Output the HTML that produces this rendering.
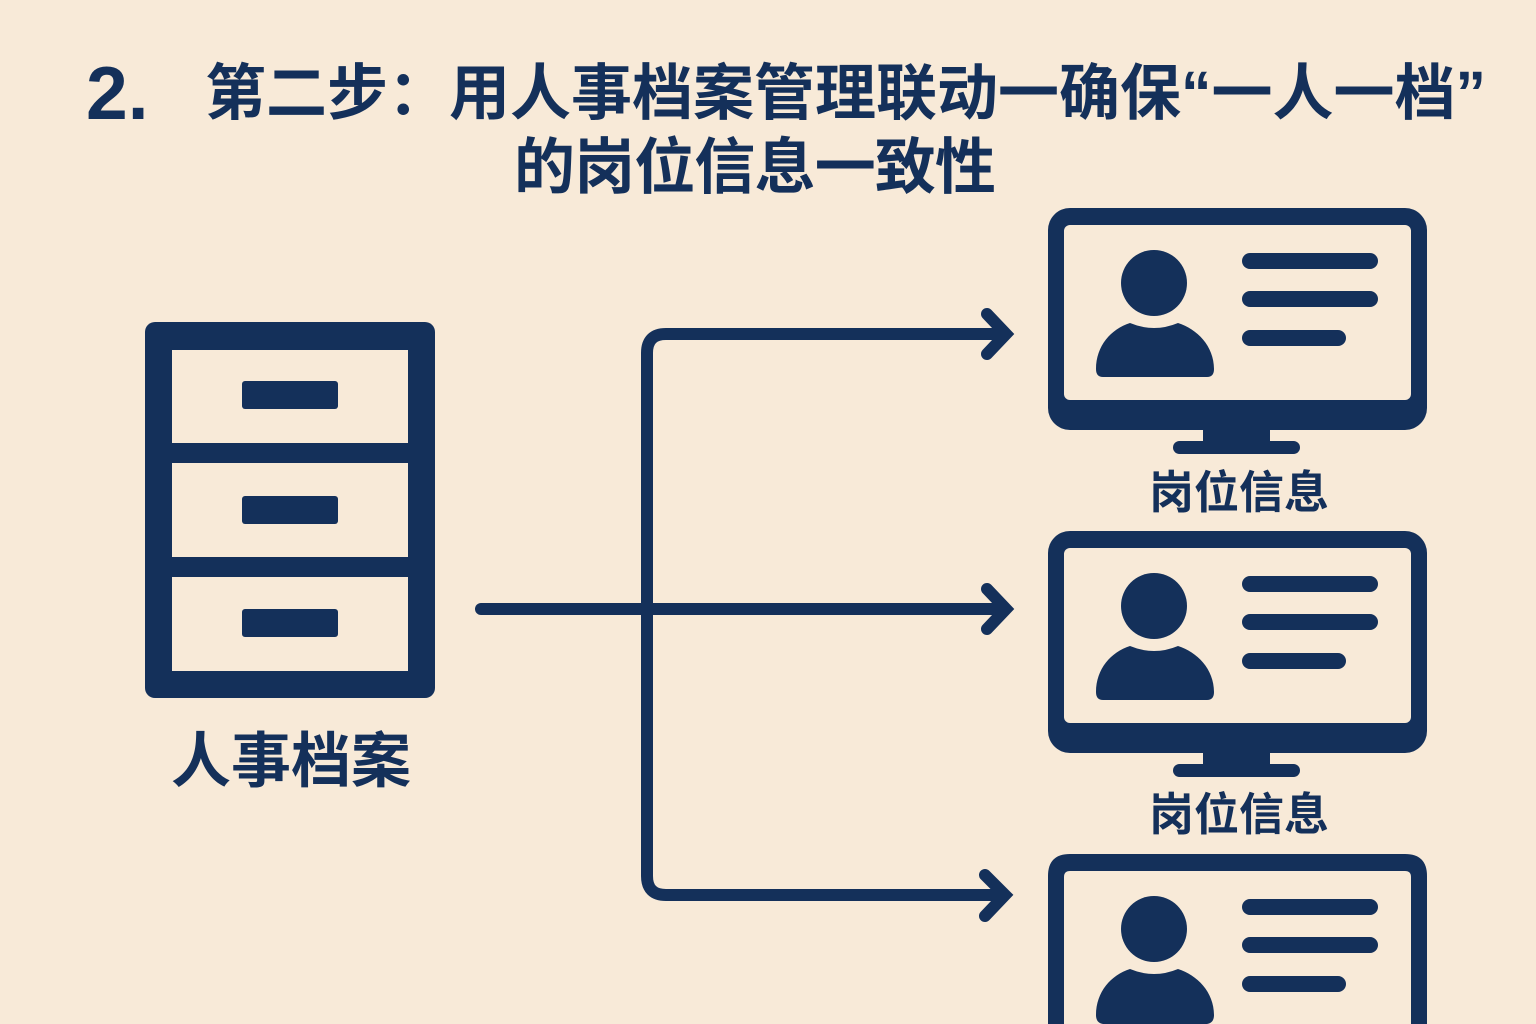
<!DOCTYPE html>
<html>
<head>
<meta charset="utf-8">
<style>
  html, body { margin:0; padding:0; background:#f8ead8; }
  body { width:1536px; height:1024px; overflow:hidden; position:relative; }
  svg { display:block; position:absolute; left:0; top:0; }
  .t { font-family: "Liberation Sans", "Noto Sans CJK SC", sans-serif; font-weight:700; fill:#14305a; }
</style>
</head>
<body>
<svg width="1536" height="1024" viewBox="0 0 1536 1024" xmlns="http://www.w3.org/2000/svg">
  <defs>
    <g id="mon">
      <rect x="1048" y="208" width="379" height="222" rx="22" ry="22" fill="#14305a"/>
      <rect x="1064" y="225" width="347" height="175" rx="6" ry="6" fill="#f8ead8"/>
      <rect x="1203" y="426" width="67" height="20" fill="#14305a"/>
      <rect x="1173" y="441" width="127" height="13" rx="6.5" ry="6.5" fill="#14305a"/>
      <circle cx="1154" cy="283" r="33" fill="#14305a"/>
      <path d="M1103,377 Q1096,377 1096,369 C1096,346 1111,329 1130,323 Q1154,333 1178,323 C1197,329 1214,346 1214,369 Q1214,377 1207,377 Z" fill="#14305a"/>
      <g stroke="#14305a" stroke-width="16" stroke-linecap="round">
        <line x1="1250" y1="261" x2="1370" y2="261"/>
        <line x1="1250" y1="299" x2="1370" y2="299"/>
        <line x1="1250" y1="338" x2="1338" y2="338"/>
      </g>
    </g>
  </defs>

  <rect width="1536" height="1024" fill="#f8ead8"/>

  <!-- Title -->
  <text class="t" x="86" y="119" font-size="75">2.</text>
  <text class="t" x="205" y="114" font-size="61" textLength="1281" lengthAdjust="spacing">第二步：用人事档案管理联动一确保“一人一档”</text>
  <text class="t" x="514" y="188" font-size="61" textLength="482" lengthAdjust="spacing">的岗位信息一致性</text>

  <!-- Cabinet -->
  <rect x="145" y="322" width="290" height="376" rx="10" ry="10" fill="#14305a"/>
  <rect x="172" y="350" width="236" height="93" fill="#f8ead8"/>
  <rect x="172" y="463" width="236" height="94" fill="#f8ead8"/>
  <rect x="172" y="577" width="236" height="94" fill="#f8ead8"/>
  <rect x="242" y="381" width="96" height="28" rx="3" fill="#14305a"/>
  <rect x="242" y="496" width="96" height="28" rx="3" fill="#14305a"/>
  <rect x="242" y="609" width="96" height="28" rx="3" fill="#14305a"/>
  <text class="t" x="291" y="782" font-size="60" text-anchor="middle">人事档案</text>

  <!-- Connectors -->
  <g fill="none" stroke="#14305a" stroke-width="12" stroke-linecap="round" stroke-linejoin="round">
    <path d="M1004,334 L666,334 Q647,334 647,353 L647,876 Q647,895 666,895 L1004,895"/>
    <path d="M481,609 L1004,609"/>
  </g>
  <g fill="none" stroke="#14305a" stroke-width="12" stroke-linecap="round" stroke-linejoin="miter" stroke-miterlimit="10">
    <polyline points="987,314 1006,334 987,354"/>
    <polyline points="987,589 1006,609 987,629"/>
    <polyline points="985,875 1005,895 985,916"/>
  </g>

  <!-- Monitors -->
  <use href="#mon"/>
  <text class="t" x="1239" y="508" font-size="45" text-anchor="middle">岗位信息</text>
  <use href="#mon" transform="translate(0,323)"/>
  <text class="t" x="1239" y="830" font-size="45" text-anchor="middle">岗位信息</text>

  <!-- Monitor 3 (truncated at bottom edge) -->
  <path d="M1048,1024 L1048,876 Q1048,854 1070,854 L1405,854 Q1427,854 1427,876 L1427,1024 Z" fill="#14305a"/>
  <path d="M1064,1024 L1064,877 Q1064,871 1070,871 L1405,871 Q1411,871 1411,877 L1411,1024 Z" fill="#f8ead8"/>
  <circle cx="1154" cy="929" r="33" fill="#14305a"/>
  <path d="M1103,1024 Q1096,1023 1096,1015 C1096,992 1111,975 1130,969 Q1154,979 1178,969 C1197,975 1214,992 1214,1015 Q1214,1023 1207,1024 Z" fill="#14305a"/>
  <g stroke="#14305a" stroke-width="16" stroke-linecap="round">
    <line x1="1250" y1="907" x2="1370" y2="907"/>
    <line x1="1250" y1="945" x2="1370" y2="945"/>
    <line x1="1250" y1="984" x2="1338" y2="984"/>
  </g>
</svg>
</body>
</html>
